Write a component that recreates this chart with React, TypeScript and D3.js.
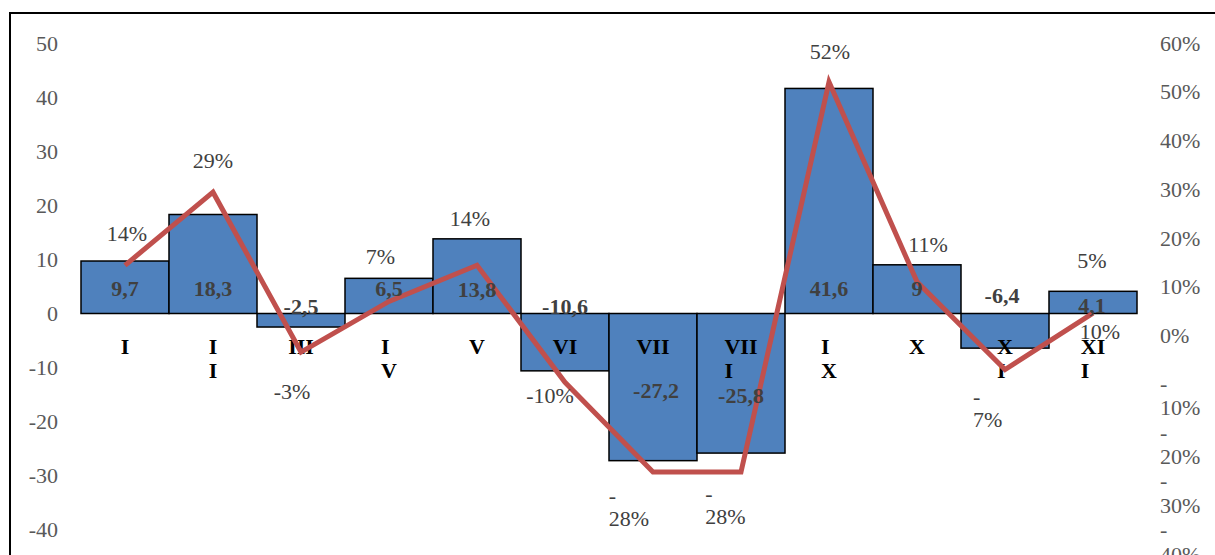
import React from "react";
import * as d3 from "d3";

// ---------- data ----------
const categories = ["I", "II", "III", "IV", "V", "VI", "VII", "VIII", "IX", "X", "XI", "XII"];
// category tick labels as they are wrapped in the reference
const categoryTickLines = [["I"], ["I", "I"], ["III"], ["I", "V"], ["V"], ["VI"], ["VII"], ["VII", "I"], ["I", "X"], ["X"], ["X", "I"], ["XI", "I"]];
const barValues = [9.7, 18.3, -2.5, 6.5, 13.8, -10.6, -27.2, -25.8, 41.6, 9, -6.4, 4.1];
const changePct = [0.144, 0.294, -0.034, 0.07, 0.144, -0.096, -0.28, -0.28, 0.52, 0.11, -0.07, 0.046];
const leftTicks = [50, 40, 30, 20, 10, 0, -10, -20, -30, -40];
const rightTicks = [0.6, 0.5, 0.4, 0.3, 0.2, 0.1, 0, -0.1, -0.2, -0.3, -0.4];

// ---------- layout (label nudges, px) ----------
const barLabelNudge: [number, number][] = [
  [0, -25.5], [0, -25.5], [0, -7.5], [0, -25], [0, -24.5], [0, -7.5],
  [3, 76.5], [0, 81.5], [0, -25.5], [0, -25.5], [-3, -18.5], [-1, -8.5],
];
const pctLabelNudge: { dx: number; dy: number; wrap: boolean }[] = [
  { dx: 2, dy: -32, wrap: false },
  { dx: 0, dy: -32, wrap: false },
  { dx: -9, dy: 39.6, wrap: false },
  { dx: -8.5, dy: -44.7, wrap: false },
  { dx: -7, dy: -47.3, wrap: false },
  { dx: -15, dy: 12.7, wrap: false },
  { dx: -24, dy: 23, wrap: true },
  { dx: -15.5, dy: 21, wrap: true },
  { dx: 1, dy: -31, wrap: false },
  { dx: 11, dy: -37, wrap: false },
  { dx: -17.3, dy: 26.4, wrap: true },
  { dx: -1, dy: -52.4, wrap: false },
];
// stray label visible near the last category in the reference
const strayLabels = [{ index: 11, text: "10%", dx: 7, dy: 18.6 }];

const W = 1215;
const H = 555;
const FONT = "'Liberation Serif', 'Times New Roman', serif";
const FS = 22;
const LINE_H = 23.5;

const canvas = typeof document !== "undefined" ? document.createElement("canvas") : null;
const ctx = canvas ? canvas.getContext("2d") : null;
function measure(text: string, bold: boolean) {
  if (!ctx) return text.length * FS * 0.5;
  ctx.font = `${bold ? "bold " : ""}${FS}px ${FONT}`;
  return ctx.measureText(text).width;
}

const fmtPct = (v: number) => `${Math.round(v * 100)}%`;
const fmtNum = (v: number) => String(v).replace(".", ",");

function BlockText({ lines, cx, cy, bold, fill }: { lines: string[]; cx: number; cy: number; bold: boolean; fill: string }) {
  if (lines.length === 1) {
    return (
      <text x={cx} y={cy} textAnchor="middle" dominantBaseline="central" fontFamily={FONT} fontSize={FS} fontWeight={bold ? "bold" : "normal"} fill={fill}>
        {lines[0]}
      </text>
    );
  }
  const maxW = Math.max(...lines.map((l) => measure(l, bold)));
  const left = cx - maxW / 2;
  return (
    <g>
      {lines.map((l, i) => (
        <text key={i} x={left} y={cy + i * LINE_H} textAnchor="start" dominantBaseline="central" fontFamily={FONT} fontSize={FS} fontWeight={bold ? "bold" : "normal"} fill={fill}>
          {l}
        </text>
      ))}
    </g>
  );
}

export default function App() {
  const x = d3.scaleBand<string>().domain(categories).range([81, 1137]).padding(0);
  const yL = d3.scaleLinear().domain([-50, 50]).range([584, 43]);
  const yR = d3.scaleLinear().domain([-0.6, 0.6]).range([628, 43]);
  const bw = x.bandwidth();
  const cx = (c: string) => (x(c) as number) + bw / 2;
  const y0 = yL(0);

  const line = d3
    .line<number>()
    .x((_, i) => cx(categories[i]))
    .y((d) => yR(d));

  return (
    <svg width={W} height={H} style={{ position: "absolute", left: 0, top: 0, background: "#fff" }}>
      <rect x={10} y={13} width={W + 20} height={H + 20} fill="#fff" stroke="#000" strokeWidth={2} />

      {/* left axis labels */}
      {leftTicks.map((t) => (
        <text key={"l" + t} x={58} y={yL(t)} textAnchor="end" dominantBaseline="central" fontFamily={FONT} fontSize={FS} fill="#595959">
          {t < 0 ? `-${Math.abs(t)}` : String(t)}
        </text>
      ))}

      {/* right axis labels */}
      {rightTicks.map((t) => {
        const y = yR(t);
        if (t >= 0) {
          return (
            <text key={"r" + t} x={1160} y={y} textAnchor="start" dominantBaseline="central" fontFamily={FONT} fontSize={FS} fill="#595959">
              {fmtPct(t)}
            </text>
          );
        }
        return (
          <g key={"r" + t}>
            <text x={1160} y={y - 1} textAnchor="start" dominantBaseline="central" fontFamily={FONT} fontSize={FS} fill="#595959">
              -
            </text>
            <text x={1160} y={y + LINE_H} textAnchor="start" dominantBaseline="central" fontFamily={FONT} fontSize={FS} fill="#595959">
              {fmtPct(Math.abs(t))}
            </text>
          </g>
        );
      })}

      {/* bars */}
      {barValues.map((v, i) => (
        <rect
          key={"b" + i}
          x={x(categories[i]) as number}
          y={Math.min(yL(v), y0)}
          width={bw}
          height={Math.abs(yL(v) - y0)}
          fill="#4F81BD"
          stroke="#000"
          strokeWidth={1.5}
        />
      ))}

      {/* category labels */}
      {categories.map((c, i) => (
        <BlockText key={"c" + c} lines={categoryTickLines[i]} cx={cx(c)} cy={y0 + 33} bold={true} fill="#000" />
      ))}

      {/* line */}
      <path d={line(changePct) || ""} fill="none" stroke="#C0504D" strokeWidth={5} strokeLinejoin="miter" />

      {/* bar value labels */}
      {barValues.map((v, i) => (
        <text
          key={"bl" + i}
          x={cx(categories[i]) + barLabelNudge[i][0]}
          y={y0 + barLabelNudge[i][1]}
          textAnchor="middle"
          dominantBaseline="central"
          fontFamily={FONT}
          fontSize={FS}
          fontWeight="bold"
          fill="#404040"
        >
          {fmtNum(v)}
        </text>
      ))}

      {/* percentage labels */}
      {changePct.map((v, i) => {
        const n = pctLabelNudge[i];
        const px = cx(categories[i]) + n.dx;
        const py = yR(v) + n.dy;
        const txt = fmtPct(v);
        const lines = n.wrap && v < 0 ? ["-", txt.slice(1)] : [txt];
        return <BlockText key={"pl" + i} lines={lines} cx={px} cy={py} bold={false} fill="#404040" />;
      })}

      {strayLabels.map((s, i) => (
        <text
          key={"s" + i}
          x={cx(categories[s.index]) + s.dx}
          y={yR(changePct[s.index]) + s.dy}
          textAnchor="middle"
          dominantBaseline="central"
          fontFamily={FONT}
          fontSize={FS}
          fill="#404040"
        >
          {s.text}
        </text>
      ))}
    </svg>
  );
}
